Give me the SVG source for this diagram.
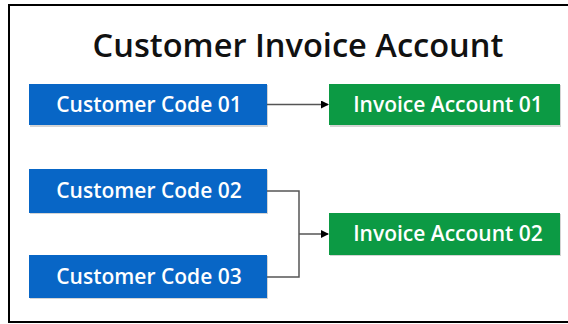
<svg xmlns="http://www.w3.org/2000/svg" width="568" height="324" viewBox="0 0 568 324">
<style>
.title{font-family:"Open Sans","Noto Sans",sans-serif;font-size:32.6px;font-weight:600;fill:#111;text-anchor:middle}
.lbl{font-family:"Open Sans","Noto Sans",sans-serif;font-size:21px;font-weight:600;fill:#fff;text-anchor:middle}
.blue{fill:#0866C6}
.green{fill:#0C9A44}
.shadow{fill:#b8b8b8;opacity:0.6}
.conn{fill:none;stroke:#555;stroke-width:1.5}
</style>
<defs>
<marker id="arr" markerWidth="8" markerHeight="8" refX="7" refY="4" orient="auto" markerUnits="userSpaceOnUse">
<path d="M0,0 L8,4 L0,8 z" fill="#000"/>
</marker>
</defs>
<rect x="0" y="0" width="568" height="324" fill="#fff"/>
<rect x="9" y="5" width="570" height="317" fill="none" stroke="#000" stroke-width="2"/>
<text class="title" x="298" y="57">Customer Invoice Account</text>
<g id="cc01">
<rect class="shadow" x="30" y="85" width="238" height="42"/>
<rect class="blue" x="29" y="84" width="238" height="41"/>
<text class="lbl" x="149" y="112">Customer Code 01</text>
</g>
<g id="ia01">
<rect class="shadow" x="330" y="85" width="231" height="42"/>
<rect class="green" x="329" y="84" width="231" height="41"/>
<text class="lbl" x="448" y="112">Invoice Account 01</text>
</g>
<g id="cc02">
<rect class="shadow" x="30" y="170" width="238" height="44"/>
<rect class="blue" x="29" y="169" width="238" height="44"/>
<text class="lbl" x="149" y="198">Customer Code 02</text>
</g>
<g id="cc03">
<rect class="shadow" x="30" y="256" width="238" height="43"/>
<rect class="blue" x="29" y="255" width="238" height="43"/>
<text class="lbl" x="149" y="284">Customer Code 03</text>
</g>
<g id="ia02">
<rect class="shadow" x="330" y="214" width="231" height="42"/>
<rect class="green" x="329" y="213" width="231" height="42"/>
<text class="lbl" x="448" y="241">Invoice Account 02</text>
</g>
<g id="connectors">
<path class="conn" d="M267,104.5 H328" marker-end="url(#arr)"/>
<path class="conn" d="M267,191 H299 V277 H267"/>
<path class="conn" d="M299,234 H328" marker-end="url(#arr)"/>
</g>
</svg>
